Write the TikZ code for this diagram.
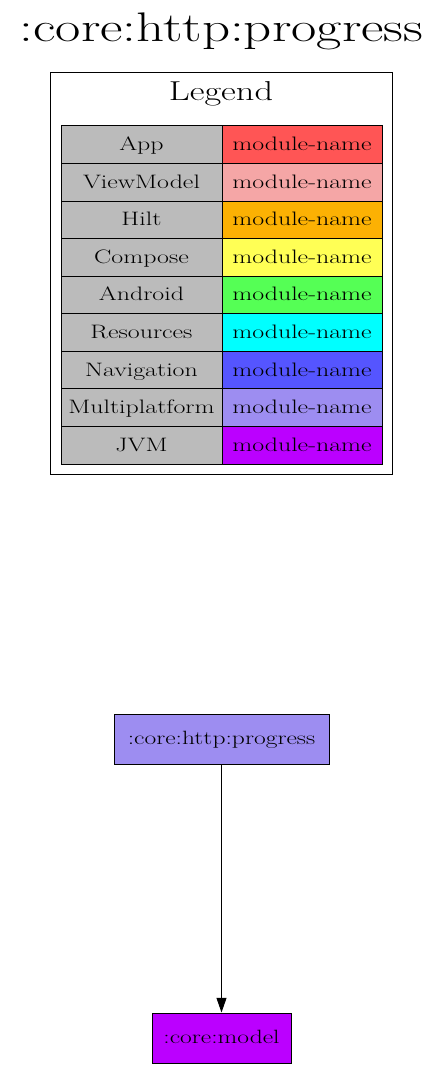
\documentclass[tikz,border=0pt]{standalone}
\usepackage{fontspec}
\setmainfont{Latin Modern Roman}[FakeStretch=1.33]
\usetikzlibrary{arrows.meta}
\definecolor{cApp}{HTML}{FF5555}
\definecolor{cVM}{HTML}{F5A6A6}
\definecolor{cHilt}{HTML}{FCB103}
\definecolor{cCompose}{HTML}{FFFF55}
\definecolor{cAndroid}{HTML}{55FF55}
\definecolor{cRes}{HTML}{00FFFF}
\definecolor{cNav}{HTML}{5555FF}
\definecolor{cMP}{HTML}{9D8DF1}
\definecolor{cJVM}{HTML}{BB00FF}
\definecolor{cGray}{HTML}{BBBBBB}
\tikzset{
  cellbase/.style={draw=black, line width=0.75pt, minimum height=28.17pt, inner sep=0pt, text height=11.2pt, text depth=2.4pt, font=\fontsize{14.6pt}{16pt}\selectfont},
  lcell/.style={cellbase, fill=cGray, minimum width=120.75pt},
  rcell/.style={cellbase, minimum width=120pt},
  modbox/.style={draw=black, line width=0.75pt, minimum height=37.5pt, inner sep=0pt, text height=10.8pt, text depth=2.6pt, font=\fontsize{14.4pt}{16pt}\selectfont},
  dep/.style={line width=0.75pt, -{Triangle[length=11pt,width=7.5pt]}}
}
\begin{document}
\begin{tikzpicture}[x=0.75pt,y=-0.75pt]
\useasboundingbox (0,0) rectangle (443,1069);
\node[text height=22pt, text depth=7pt] (title) at (221.5,32) {\fontsize{31pt}{36pt}\selectfont :core:http:progress};
\node[draw=black, line width=0.75pt, minimum width=256.5pt, minimum height=300.75pt, inner sep=0pt] (legend) at (221,273.5) {};
\node[text height=15pt, text depth=4pt] (legendtitle) at (221,93) {\fontsize{20.5pt}{24pt}\selectfont Legend};
\foreach \i/\name/\col in {0/App/cApp,1/ViewModel/cVM,2/Hilt/cHilt,3/Compose/cCompose,4/Android/cAndroid,5/Resources/cRes,6/Navigation/cNav,7/Multiplatform/cMP,8/JVM/cJVM}{
  \node[lcell] (l\i) at (141.5,{126+37.56*(\i+0.5)}) {\name};
  \node[rcell, fill=\col] (r\i) at (302,{126+37.56*(\i+0.5)}) {module-name};
}
\node[modbox, fill=cMP, minimum width=161.25pt] (progress) at (221.5,739) {:core:http:progress};
\node[modbox, fill=cJVM, minimum width=104.25pt] (model) at (221.5,1038) {:core:model};
\draw[dep] (progress) -- (model);
\end{tikzpicture}
\end{document}
